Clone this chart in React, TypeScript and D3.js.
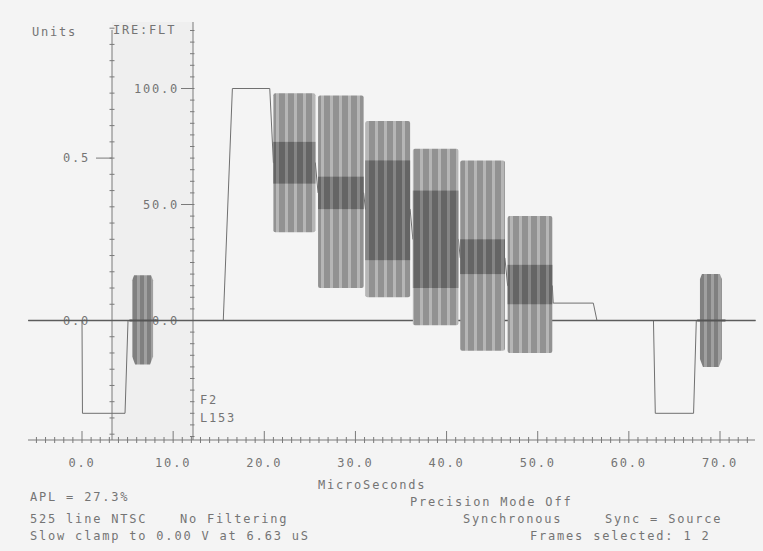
import React from "react";
import * as d3 from "d3";

// ---- data (time in microseconds, level in IRE) ----
const xTickValues = [0, 10, 20, 30, 40, 50, 60, 70];
const ireTickValues = [100, 50, 0];
const voltTickValues = [0.5, 0.0];

const waveT = [-5.9, 0, 0.05, 4.72, 5.05, 15.5, 16.5, 20.6, 21.0, 25.6, 25.9, 30.9, 31.1, 36.0, 36.3, 41.3, 41.5, 46.4, 46.7, 51.6, 51.7, 56.1, 56.5, 62.7, 62.9, 67.1, 67.4, 73.9];
const waveV = [0, 0, -40, -40, 0, 0, 100, 100, 68, 68, 55, 55, 48, 48, 35, 35, 27, 27, 15, 15, 7.5, 7.5, 0, 0, -40, -40, 0, 0];

const barStart = [21.0, 25.9, 31.1, 36.3, 41.5, 46.7];
const barEnd = [25.6, 30.9, 36.0, 41.3, 46.4, 51.6];
const barTop = [98, 97, 86, 74, 69, 45];
const barBottom = [38, 14, 10, -2, -13, -14];
const bandTop = [77, 62, 69, 56, 35, 24];
const bandBottom = [59, 48, 26, 14, 20, 7];

const burstStart = [5.5, 67.8];
const burstEnd = [7.8, 70.2];
const burstTop = [19.5, 20];
const burstBottom = [-19, -20];

const leftLines = ["APL = 27.3%", "525 line NTSC", "Slow clamp to 0.00 V at 6.63 uS"];
const infoTexts = ["No Filtering", "Precision Mode Off", "Synchronous", "Sync = Source", "Frames selected: 1 2"];

const W = 763, H = 551;
const x = d3.scaleLinear().domain([0, 70]).range([82, 720]);
const y = d3.scaleLinear().domain([0, 100]).range([320.5, 88.5]);
const yV = (v: number) => y(v * 140);

const FONT = "'DejaVu Sans Mono', monospace";
const TXT = "#747474";
const AX = "#7a7a7a";

export default function App() {
  const wave = d3.line<number>().x((_, i) => x(waveT[i])).y((_, i) => y(waveV[i]))(waveT.map((_, i) => i)) || "";
  const xMinor = d3.range(-5, 74, 1);
  const ireMinor = d3.range(-50, 130, 5);
  const voltMinor = d3.range(-0.35, 0.92, 0.05);
  const ireAxisX = 193, voltAxisX = 112, axisTop = 22, axisY = 440;
  const textStyle: React.CSSProperties = { fontFamily: FONT, fontSize: 12, letterSpacing: 1.8, fill: TXT };

  return (
    <svg width={W} height={H} style={{ position: "absolute", left: 0, top: 0 }}>
      <defs>
        <pattern id="stripeLight" patternUnits="userSpaceOnUse" width={9} height={10}>
          <rect width={9} height={10} fill="#b6b6b6" />
          <rect x={0} width={6} height={10} fill="#929292" />
        </pattern>
        <pattern id="stripeDark" patternUnits="userSpaceOnUse" width={9} height={10}>
          <rect width={9} height={10} fill="#858585" />
          <rect x={0} width={6} height={10} fill="#656565" />
        </pattern>
        <pattern id="stripeBurst" patternUnits="userSpaceOnUse" width={7} height={10}>
          <rect width={7} height={10} fill="#a0a0a0" />
          <rect x={0} width={4} height={10} fill="#808080" />
        </pattern>
      </defs>
      <rect width={W} height={H} fill="#f4f4f4" />
      <rect x={voltAxisX} y={axisTop} width={ireAxisX - voltAxisX} height={axisY - axisTop} fill="#efefef" />

      {/* x axis */}
      <line x1={28} x2={755} y1={axisY} y2={axisY} stroke={AX} strokeWidth={1} />
      {xMinor.map((t) => {
        const major = t % 10 === 0;
        return <line key={"xm" + t} x1={x(t)} x2={x(t)} y1={axisY - (major ? 9 : 3)} y2={axisY + 3} stroke={AX} strokeWidth={1} />;
      })}
      {xTickValues.map((t) => (
        <text key={"xl" + t} x={x(t)} y={467} textAnchor="middle" style={textStyle}>{t.toFixed(1)}</text>
      ))}
      <text x={318} y={489} style={textStyle}>MicroSeconds</text>

      {/* volts axis */}
      <line x1={voltAxisX} x2={voltAxisX} y1={axisTop + 8} y2={axisY} stroke={AX} />
      {voltMinor.map((v, i) => (
        <line key={"vm" + i} x1={voltAxisX - 2.5} x2={voltAxisX + 2.5} y1={yV(v)} y2={yV(v)} stroke={AX} />
      ))}
      {voltTickValues.map((v) => (
        <g key={"vl" + v}>
          <line x1={96} x2={voltAxisX} y1={yV(v)} y2={yV(v)} stroke={AX} />
          <text x={90} y={yV(v) + 4} textAnchor="end" style={textStyle}>{v.toFixed(1)}</text>
        </g>
      ))}
      <text x={32} y={36} style={textStyle}>Units</text>

      {/* IRE axis */}
      <line x1={ireAxisX} x2={ireAxisX} y1={axisTop} y2={axisY} stroke={AX} />
      {ireMinor.map((v) => (
        <line key={"im" + v} x1={ireAxisX - 3} x2={ireAxisX + 1.5} y1={y(v)} y2={y(v)} stroke={AX} />
      ))}
      {ireTickValues.map((v) => (
        <g key={"il" + v}>
          <line x1={181} x2={ireAxisX} y1={y(v)} y2={y(v)} stroke={AX} />
          <text x={179} y={y(v) + 4} textAnchor="end" style={textStyle}>{v.toFixed(1)}</text>
        </g>
      ))}
      <text x={113} y={34} style={textStyle}>IRE:FLT</text>

      {/* waveform */}
      <path d={wave} fill="none" stroke="#707070" strokeWidth={1} />
      <line x1={x(-5.9)} x2={x(73.9)} y1={y(0)} y2={y(0)} stroke="#5c5c5c" strokeWidth={1.6} />

      {/* chroma bars */}
      {barStart.map((s, i) => (
        <g key={"bar" + i}>
          <rect x={x(s)} y={y(barTop[i])} width={x(barEnd[i]) - x(s)} height={y(barBottom[i]) - y(barTop[i])} fill="url(#stripeLight)" rx={2} />
          <rect x={x(s)} y={y(bandTop[i])} width={x(barEnd[i]) - x(s)} height={y(bandBottom[i]) - y(bandTop[i])} fill="url(#stripeDark)" />
        </g>
      ))}

      {/* bursts */}
      {burstStart.map((s, i) => {
        const x0 = x(s), x1 = x(burstEnd[i]);
        const yt = y(burstTop[i]), yb = y(burstBottom[i]);
        const pts = [[x0 + 2, yt], [x1 - 2, yt], [x1, yt + 5], [x1, yb - 8], [x1 - 3, yb], [x0 + 3, yb], [x0, yb - 8], [x0, yt + 5]];
        return <polygon key={"burst" + i} points={pts.map((p) => p.join(",")).join(" ")} fill="url(#stripeBurst)" />;
      })}
      <line x1={x(5.2)} x2={x(8.3)} y1={y(0)} y2={y(0)} stroke="#555" strokeWidth={2} />
      <line x1={x(67.5)} x2={x(70.6)} y1={y(0)} y2={y(0)} stroke="#555" strokeWidth={2} />

      {/* annotations */}
      <text x={200} y={404} style={textStyle}>F2</text>
      <text x={200} y={422} style={textStyle}>L153</text>

      <text x={30} y={501} style={textStyle}>{leftLines[0]}</text>
      <text x={30} y={523} style={textStyle}>{leftLines[1]}</text>
      <text x={30} y={540} style={textStyle}>{leftLines[2]}</text>
      <text x={180} y={523} style={textStyle}>{infoTexts[0]}</text>
      <text x={410} y={506} style={textStyle}>{infoTexts[1]}</text>
      <text x={463} y={523} style={textStyle}>{infoTexts[2]}</text>
      <text x={605} y={523} style={textStyle}>{infoTexts[3]}</text>
      <text x={530} y={540} style={textStyle}>{infoTexts[4]}</text>
    </svg>
  );
}
